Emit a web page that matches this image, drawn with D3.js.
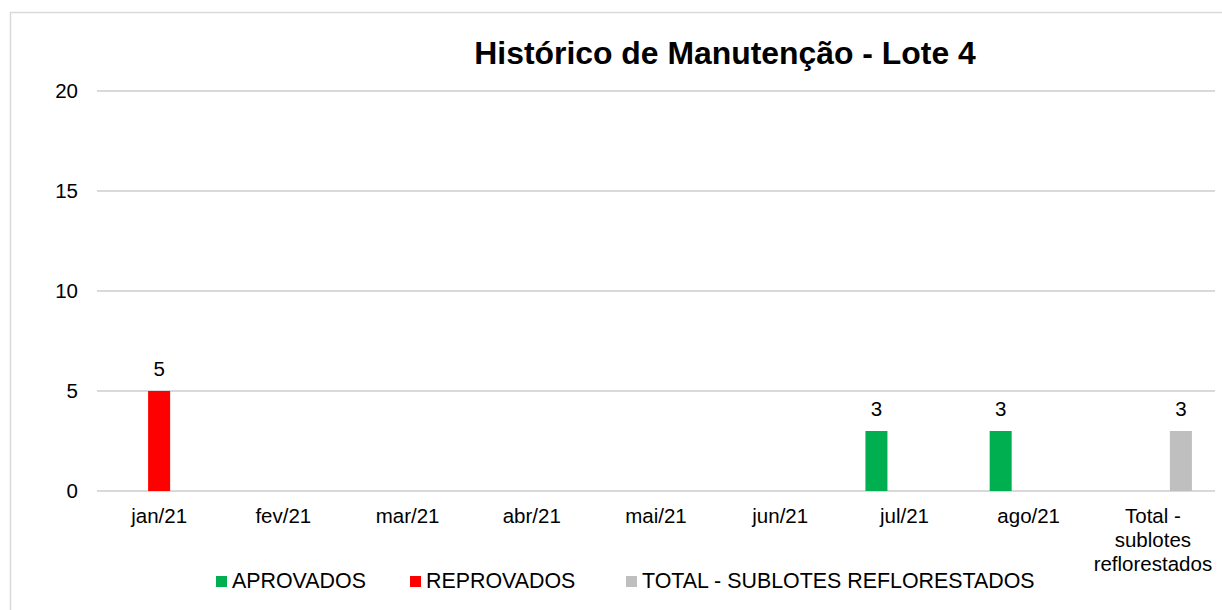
<!DOCTYPE html>
<html>
<head>
<meta charset="utf-8">
<script src="https://cdn.jsdelivr.net/npm/d3@7"></script>
<style>
  body { margin: 0; background: #fff; }
  svg { display: block; font-family: "Liberation Sans", Arial, sans-serif; }
</style>
</head>
<body>
<div id="chart"></div>
<script>
// dados
const categories = ["jan/21", "fev/21", "mar/21", "abr/21", "mai/21", "jun/21", "jul/21", "ago/21", "Total - sublotes reflorestados"];
const aprovados  = [null, null, null, null, null, null, 3, 3, null];
const reprovados = [5, null, null, null, null, null, null, null, null];
const totalSublotes = [null, null, null, null, null, null, null, null, 3];
const seriesNames = ["APROVADOS", "REPROVADOS", "TOTAL - SUBLOTES REFLORESTADOS"];
const seriesColors = ["#00b050", "#ff0000", "#bfbfbf"];
const yTicks = [0, 5, 10, 15, 20];

const width = 1222, height = 610;
const marginLeft = 97, marginRight = 7, zeroY = 491, topY = 91;

const seriesValues = [aprovados, reprovados, totalSublotes];

const svg = d3.select("#chart").append("svg")
  .attr("width", width)
  .attr("height", height);

// moldura do gráfico
svg.append("rect")
  .attr("x", 10.5).attr("y", 12.5)
  .attr("width", 1400).attr("height", 800)
  .attr("fill", "none")
  .attr("stroke", "#d9d9d9")
  .attr("stroke-width", 1.5);

// título
svg.append("text")
  .attr("x", 725)
  .attr("y", 63.5)
  .attr("text-anchor", "middle")
  .attr("font-size", 31.9)
  .attr("font-weight", "bold")
  .attr("fill", "#000")
  .text("Histórico de Manutenção - Lote 4");

// escalas
const x0 = d3.scaleBand()
  .domain(categories)
  .range([marginLeft, width - marginRight]);

const x1 = d3.scaleBand()
  .domain(seriesNames)
  .range([0, x0.bandwidth()])
  .paddingInner(0.214)
  .paddingOuter(0.825);

const y = d3.scaleLinear()
  .domain([0, 20])
  .range([zeroY, topY]);

// linhas de grade
svg.append("g")
  .selectAll("line")
  .data(yTicks)
  .join("line")
  .attr("x1", marginLeft)
  .attr("x2", width - marginRight)
  .attr("y1", d => y(d))
  .attr("y2", d => y(d))
  .attr("stroke", "#d9d9d9")
  .attr("stroke-width", 2);

// eixo y
svg.append("g")
  .attr("transform", `translate(${marginLeft},0)`)
  .call(d3.axisLeft(y).tickValues(yTicks).tickSize(0).tickPadding(19))
  .call(g => g.select(".domain").remove())
  .call(g => g.selectAll("text")
    .attr("font-size", 20.5)
    .attr("font-family", "Liberation Sans, Arial, sans-serif")
    .attr("fill", "#000"));

// barras
const barData = [];
categories.forEach((c, i) => {
  seriesNames.forEach((s, j) => {
    const v = seriesValues[j][i];
    if (v != null) barData.push({ cat: c, series: s, value: v, color: seriesColors[j] });
  });
});

svg.append("g")
  .selectAll("rect")
  .data(barData)
  .join("rect")
  .attr("x", d => x0(d.cat) + x1(d.series))
  .attr("width", x1.bandwidth())
  .attr("y", d => y(d.value))
  .attr("height", d => y(0) - y(d.value))
  .attr("fill", d => d.color);

// rótulos de valor
svg.append("g")
  .selectAll("text")
  .data(barData)
  .join("text")
  .attr("x", d => x0(d.cat) + x1(d.series) + x1.bandwidth() / 2)
  .attr("y", d => y(d.value) - 15)
  .attr("text-anchor", "middle")
  .attr("font-size", 20.5)
  .attr("fill", "#000")
  .text(d => d.value);

// eixo x (rótulos com quebra de linha)
const xAxis = svg.append("g")
  .attr("transform", `translate(0,${zeroY})`)
  .call(d3.axisBottom(x0).tickSize(0).tickPadding(0))
  .call(g => g.select(".domain").remove());

xAxis.selectAll(".tick text")
  .attr("font-size", 20.5)
  .attr("font-family", "Liberation Sans, Arial, sans-serif")
  .attr("fill", "#000")
  .attr("dy", null)
  .attr("y", 32)
  .each(function(d) {
    const t = d3.select(this);
    const words = d.split(" ");
    const maxW = x0.step();
    t.text(null);
    let line = [];
    let lineNo = 0;
    let tspan = t.append("tspan").attr("x", 0).attr("y", 32);
    words.forEach(w => {
      line.push(w);
      tspan.text(line.join(" "));
      if (tspan.node().getComputedTextLength() > maxW && line.length > 1) {
        line.pop();
        tspan.text(line.join(" "));
        line = [w];
        lineNo++;
        tspan = t.append("tspan").attr("x", 0).attr("y", 32 + lineNo * 24).text(w);
      }
    });
  });

// legenda
const legendX = [216, 410, 626];
const legend = svg.append("g");
seriesNames.forEach((s, i) => {
  legend.append("rect")
    .attr("x", legendX[i])
    .attr("y", 576)
    .attr("width", 11)
    .attr("height", 11)
    .attr("fill", seriesColors[i]);
  legend.append("text")
    .attr("x", legendX[i] + 16)
    .attr("y", 588)
    .attr("font-size", 21.4)
    .attr("fill", "#000")
    .text(s);
});
</script>
</body>
</html>
